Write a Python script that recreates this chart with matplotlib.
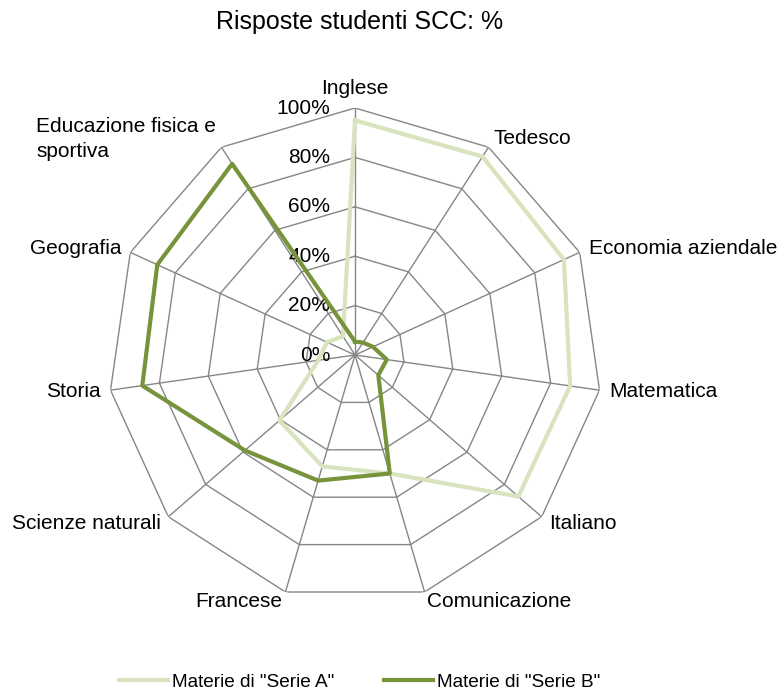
import numpy as np
import matplotlib
matplotlib.use("Agg")
import matplotlib.pyplot as plt

plt.rcParams['font.family'] = ['Liberation Sans', 'DejaVu Sans']

# categories, clockwise from the top
categories = ["Inglese", "Tedesco", "Economia aziendale", "Matematica", "Italiano",
              "Comunicazione", "Francese", "Scienze naturali", "Storia", "Geografia",
              "Educazione fisica e\nsportiva"]
serie_a = [95, 95.5, 93, 88, 87.5, 50, 47, 40.5, 15, 12.5, 9]
serie_b = [5.4, 6, 8, 13, 12.5, 50, 53, 59, 87, 88, 92]
r_ticks = [0, 20, 40, 60, 80, 100]
series_names = ['Materie di "Serie A"', 'Materie di "Serie B"']

col_a = "#D7E4BD"
col_b = "#77933C"
grid_col = "#868686"

n = len(categories)
theta = np.arange(n) * 2 * np.pi / n
theta_closed = np.append(theta, theta[0])

fig = plt.figure(figsize=(7.84, 6.94), dpi=100)
ax = fig.add_axes([0.13776, 0.13256, 0.63010, 0.71182], projection="polar")
ax.set_theta_zero_location("N")
ax.set_theta_direction(-1)
ax.set_ylim(0, 100)
ax.grid(False)
ax.set_xticks([])
ax.set_yticks([])
ax.spines["polar"].set_visible(False)
ax.patch.set_visible(False)

# polygon grid (straight segments)
for r in r_ticks[1:]:
    ax.plot(theta_closed, [r] * (n + 1), color=grid_col, lw=1.0, zorder=1)
for t in theta:
    ax.plot([t, t], [0, 100], color=grid_col, lw=1.0, zorder=1)

# radial tick labels
for r in r_ticks:
    ax.annotate(f"{r}%", xy=(0, r), xytext=(-18, 0), textcoords="offset points",
                ha="right", va="center", fontsize=15, color="black", zorder=2)

# data
la, = ax.plot(theta_closed, serie_a + serie_a[:1], color=col_a, lw=3, zorder=3,
              label=series_names[0])
lb, = ax.plot(theta_closed, serie_b + serie_b[:1], color=col_b, lw=3, zorder=4,
              label=series_names[1])

# category labels
for t, lab in zip(theta, categories):
    s = np.sin(t)
    if abs(s) < 0.1:
        ha, va = "center", "bottom"
    elif s > 0:
        ha, va = "left", "center"
    else:
        ha, va = "right", "center"
    ax.text(t, 104, lab, ha=ha, va=va, fontsize=15, multialignment="left",
            linespacing=1.4)

fig.text(360 / 784, 1 - 22 / 694, "Risposte studenti SCC: %", ha="center", va="center",
         fontsize=18)

fig.legend(handles=[la, lb], loc="center", bbox_to_anchor=(359.5 / 784, 1 - 682 / 694),
           ncol=2, frameon=False, fontsize=13.7, handlelength=2.6, handletextpad=0.2,
           columnspacing=2.6)

fig.savefig("out.png", dpi=100)
